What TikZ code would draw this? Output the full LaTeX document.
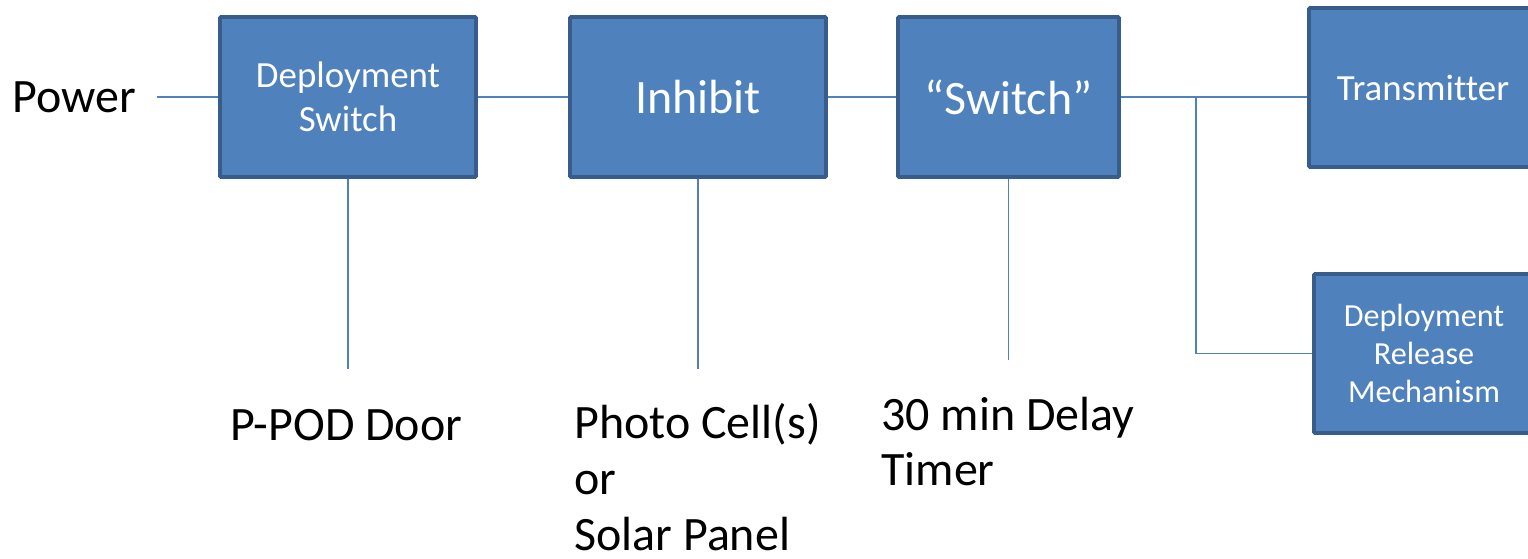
\documentclass[tikz,border=0pt]{standalone}
\usepackage{fontspec}
\setmainfont{Carlito}[Ligatures={TeX,NoCommon}]
\usetikzlibrary{positioning}
\definecolor{boxfill}{HTML}{4F81BD}
\definecolor{boxline}{HTML}{385D8A}
\definecolor{wirecol}{HTML}{4F81BD}

\begin{document}
\begin{tikzpicture}[
    block/.style={rectangle, draw=boxline, line width=2.2pt, fill=boxfill, rounded corners=0.6pt, text=white, align=center, minimum height=3.2cm, inner sep=0pt},
    big/.style={font=\fontsize{27.3}{31.75}\selectfont},
    mid/.style={font=\fontsize{21}{25}\selectfont},
    small/.style={font=\fontsize{18.3}{21.5}\selectfont},
    wire/.style={draw=wirecol, line width=0.9pt},
    note/.style={big, anchor=base west, align=left, inner sep=0pt}
]
\useasboundingbox (0,0) rectangle (30.56,-11.18);

% Main chain
\node[block, mid, minimum width=5.12cm] (dep) at (6.96,-1.94) {Deployment\\Switch};
\node[block, big, minimum width=5.12cm] (inh) at (13.96,-1.94) {Inhibit};
\node[block, big, minimum width=4.42cm] (sw) at (20.17,-1.94) {“Switch”};

% Outputs
\node[block, mid, minimum width=4.56cm, minimum height=3.18cm] (tx) at (28.46,-1.75) {Transmitter};
\node[block, small, minimum width=4.4cm, minimum height=3.18cm] (drm) at (28.48,-7.07) {Deployment\\Release\\Mechanism};

% Free ends
\coordinate (pw) at (3.14,-1.94);
\coordinate (door) at (6.96,-7.38);
\coordinate (cell) at (13.96,-7.38);
\coordinate (timer) at (20.17,-7.2);
\coordinate (br) at (23.92,-1.94);

% Wires
\draw[wire] (pw) -- (dep);
\draw[wire] (dep) -- (inh);
\draw[wire] (inh) -- (sw);
\draw[wire] (sw.east) -- (sw.east -| tx.west);
\draw[wire] (br) |- (drm.west);
\draw[wire] (dep.south) -- (door);
\draw[wire] (inh.south) -- (cell);
\draw[wire] (sw.south) -- (timer);

% Labels
\node[note] (power) at (0.24,-2.26) {Power};
\node[note] (doorlbl) at (4.6,-8.82) {P-POD Door};
\node[note] (celllbl) at (11.48,-11.0) {Photo Cell(s)\\or\\Solar Panel};
\node[note] (timerlbl) at (17.62,-9.72) {30 min Delay\\Timer};

\end{tikzpicture}
\end{document}
